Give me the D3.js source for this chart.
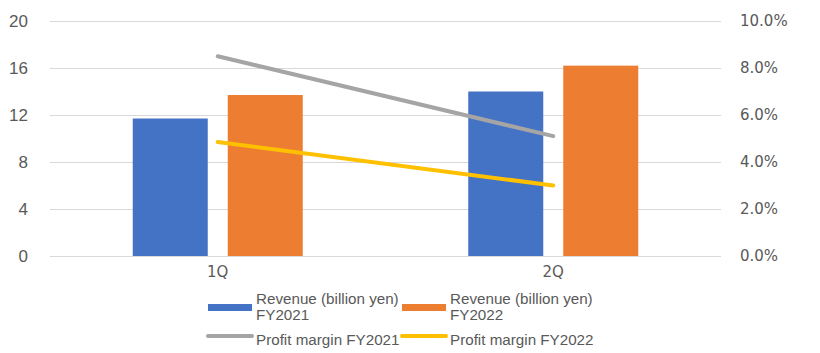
<!DOCTYPE html>
<html><head><meta charset="utf-8">
<script src="https://cdn.jsdelivr.net/npm/d3@7"></script>
<style>body{margin:0;background:#fff}svg{display:block}</style>
</head><body><svg id="c" width="820" height="353"></svg>
<script>
const categories = ["1Q", "2Q"];
const revenueFY2021 = [11.7, 14.0];
const revenueFY2022 = [13.7, 16.2];
const marginFY2021 = [8.5, 5.1];
const marginFY2022 = [4.85, 3.0];
const leftTicks = [0, 4, 8, 12, 16, 20];
const rightTicks = [0, 2, 4, 6, 8, 10];
const barSeries = [
  {name: ["Revenue (billion yen)", "FY2021"], values: revenueFY2021, color: "#4472C4"},
  {name: ["Revenue (billion yen)", "FY2022"], values: revenueFY2022, color: "#ED7D31"}
];
const lineSeries = [
  {name: "Profit margin FY2021", values: marginFY2021, color: "#A5A5A5"},
  {name: "Profit margin FY2022", values: marginFY2022, color: "#FFC000"}
];

const svg = d3.select("#c");
const L = 50, R = 721, T = 21, B = 256;
const x = d3.scaleBand().domain(categories).range([L, R]);
const groupW = 170, barW = 75;
const yL = d3.scaleLinear().domain([0, 20]).range([B, T]);
const yR = d3.scaleLinear().domain([0, 10]).range([B, T]);

// gridlines
svg.append("g").selectAll("line").data(leftTicks).join("line")
  .attr("x1", L).attr("x2", R).attr("y1", d => yL(d) + 0.5).attr("y2", d => yL(d) + 0.5)
  .attr("stroke", "#D9D9D9").attr("stroke-width", 1);

// left axis
const gl = svg.append("g").attr("transform", `translate(${L},0)`)
  .call(d3.axisLeft(yL).tickValues(leftTicks).tickSize(0).tickPadding(22).tickFormat(d3.format("d")));
gl.select(".domain").remove();
gl.selectAll("text").attr("font-family", "Liberation Sans, Arial, sans-serif").attr("font-size", 17).attr("fill", "#595959");

// right axis
const gr = svg.append("g").attr("transform", `translate(${R},0)`)
  .call(d3.axisRight(yR).tickValues(rightTicks).tickSize(0).tickPadding(19).tickFormat(d => d.toFixed(1) + "%"));
gr.select(".domain").remove();
gr.selectAll("text").attr("font-family", "DejaVu Sans, Verdana, sans-serif").attr("font-size", 15).attr("fill", "#595959");

// bars
barSeries.forEach((s, i) => {
  svg.append("g").selectAll("rect").data(s.values).join("rect")
    .attr("x", (d, j) => x(categories[j]) + x.bandwidth()/2 - groupW/2 + i*(barW + 20))
    .attr("width", barW)
    .attr("y", d => yL(d)).attr("height", d => yL(0) - yL(d))
    .attr("fill", s.color);
});

// lines
const line = d3.line().x((d, j) => x(categories[j]) + x.bandwidth()/2).y(d => yR(d));
lineSeries.forEach(s => {
  svg.append("path").datum(s.values).attr("d", line)
    .attr("fill", "none").attr("stroke", s.color).attr("stroke-width", 4).attr("stroke-linecap", "round");
});

// x axis labels
const gx = svg.append("g").attr("transform", `translate(0,${B})`)
  .call(d3.axisBottom(x).tickSize(0).tickPadding(10));
gx.select(".domain").remove();
gx.selectAll("text").attr("font-family", "DejaVu Sans, Verdana, sans-serif").attr("font-size", 15).attr("fill", "#595959");

// legend
const legFont = "Liberation Sans, Arial, sans-serif";
const legX = [208, 402];
barSeries.forEach((s, i) => {
  const g = svg.append("g");
  g.append("rect").attr("x", legX[i]).attr("y", 304).attr("width", 44).attr("height", 7).attr("fill", s.color);
  const t = g.append("text").attr("x", legX[i] + 48).attr("y", 304).attr("font-family", legFont)
    .attr("font-size", 15.2).attr("fill", "#595959");
  t.append("tspan").attr("x", legX[i] + 48).attr("dy", 0).text(s.name[0]);
  t.append("tspan").attr("x", legX[i] + 48).attr("dy", 16).text(s.name[1]);
});
lineSeries.forEach((s, i) => {
  const g = svg.append("g");
  g.append("line").attr("x1", legX[i]).attr("x2", legX[i] + 44).attr("y1", 336).attr("y2", 336)
    .attr("stroke", s.color).attr("stroke-width", 4).attr("stroke-linecap", "round");
  g.append("text").attr("x", legX[i] + 48).attr("y", 345).attr("font-family", legFont)
    .attr("font-size", 15.2).attr("fill", "#595959").text(s.name);
});
</script></body></html>
